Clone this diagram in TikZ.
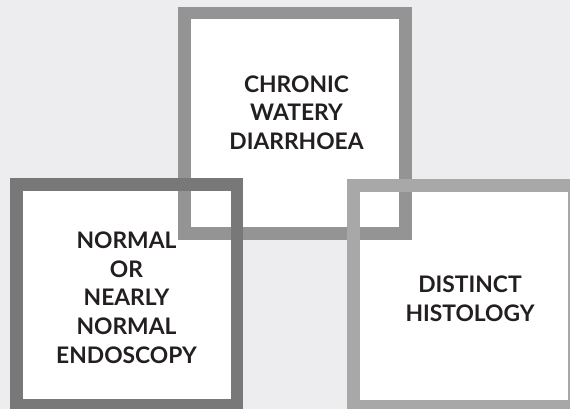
\documentclass[tikz,border=0pt]{standalone}
\usepackage{fontspec}
\setmainfont{Lato}
\definecolor{bgcol}{HTML}{EDEDEF}
\definecolor{topcol}{HTML}{949494}
\definecolor{leftcol}{HTML}{787878}
\definecolor{rightcol}{HTML}{A8A8A8}
\definecolor{txtcol}{HTML}{231F20}
\begin{document}
\begin{tikzpicture}[x=1pt,y=-1pt,
  boxfill/.style={fill=white,minimum width=233.4pt,minimum height=233.4pt,inner sep=0pt,outer sep=0pt},
  frame/.style={line width=12.7pt},
  lbl/.style={align=center,text=txtcol,font=\fontsize{22.8}{28.7}\selectfont\bfseries,inner sep=0pt}]
\useasboundingbox[fill=bgcol] (0,0) rectangle (570,409);
\node[boxfill] (btop) at (295,123.35) {};
\node[boxfill] (bleft) at (126.7,295) {};
\node[boxfill] (bright) at (463.7,295.7) {};
\draw[frame,topcol] ([xshift=6.35pt,yshift=-6.35pt]btop.north west) rectangle ([xshift=-6.35pt,yshift=6.35pt]btop.south east);
\draw[frame,leftcol] ([xshift=6.35pt,yshift=-6.35pt]bleft.north west) rectangle ([xshift=-6.35pt,yshift=6.35pt]bleft.south east);
\draw[frame,rightcol] ([xshift=6.35pt,yshift=-6.35pt]bright.north west) rectangle ([xshift=-6.35pt,yshift=6.35pt]bright.south east);
\node[lbl] (ttop) at (296.5,112.5) {CHRONIC\\WATERY\\DIARRHOEA};
\node[lbl] (tleft) at (126.5,297.5) {NORMAL\\OR\\NEARLY\\NORMAL\\ENDOSCOPY};
\node[lbl] (tright) at (470,299) {DISTINCT\\HISTOLOGY};
\end{tikzpicture}
\end{document}
